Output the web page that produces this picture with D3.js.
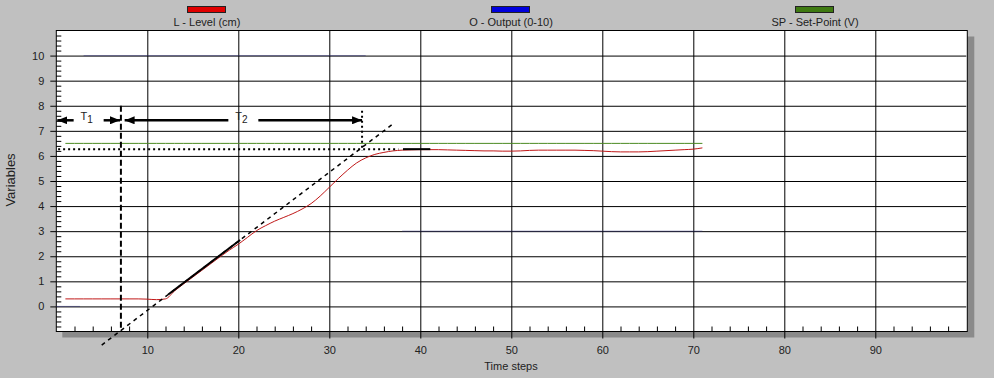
<!DOCTYPE html>
<html>
<head>
<meta charset="utf-8">
<script src="https://cdn.jsdelivr.net/npm/d3@7"></script>
<style>
  body { margin: 0; background: #c0c0c0; }
  svg text { font-family: "Liberation Sans", Arial, sans-serif; fill: #222; }
</style>
</head>
<body>
<svg id="chart" width="994" height="378"></svg>
<script>
// time steps 1..71
var steps = d3.range(1, 72);

// L - Level (cm)
var level = [0.30, 0.30, 0.30, 0.30, 0.30, 0.30, 0.30, 0.30, 0.30, 0.29,
  0.27, 0.30, 0.62, 0.90, 1.17, 1.44, 1.71, 1.98, 2.24, 2.48,
  2.75, 3.02, 3.22, 3.40, 3.55, 3.70, 3.88, 4.10, 4.40, 4.75,
  5.10, 5.43, 5.72, 5.92, 6.06, 6.14, 6.20,
  6.23, 6.24, 6.25, 6.25, 6.25, 6.24, 6.23, 6.22, 6.21, 6.20, 6.20, 6.19, 6.19,
  6.20, 6.22, 6.23, 6.23, 6.23, 6.23, 6.23, 6.22, 6.21, 6.19, 6.17, 6.16, 6.16,
  6.16, 6.17, 6.19, 6.21, 6.23, 6.25, 6.27, 6.32];

// O - Output (0-10), drawn in pieces
var outputSteps = [0, 1, 2.6, 2.6, 3, 10, 20, 30, 34, 34, 38, 40, 50, 60, 71];
var output =      [0, 0, 0, null, 10, 10, 10, 10, 10, null, 3, 3, 3, 3, 3];

// SP - Set-Point (V)
var setpoint = steps.map(function() { return 6.5; });

var xTicks = [10, 20, 30, 40, 50, 60, 70, 80, 90];
var yTicks = [0, 1, 2, 3, 4, 5, 6, 7, 8, 9, 10];

var legendNames = ["L - Level (cm)", "O - Output (0-10)", "SP - Set-Point (V)"];
var legendColors = ["#e00000", "#0000dd", "#3f7a12"];

// annotation values (time, value)
var tangent = [[4.99, -1.54], [37.05, 7.29]];
var solidFrom = 12.3, solidTo = 20.2;
var t1 = 7.1, t2 = 33.6, arrowLevel = 7.42, steadyLevel = 6.27;

var svg = d3.select("#chart");
var pL = 56.3, pR = 966.3, pT = 30.5, pB = 331.5;

var x = d3.scaleLinear().domain([0, 100]).range([pL, pR]);
var y = d3.scaleLinear().domain([-1, 11]).range([pB, pT]);

// shadow + plot area
svg.append("rect").attr("x", pL + 6).attr("y", pT + 6)
  .attr("width", pR - pL + 2).attr("height", pB - pT)
  .attr("fill", "#8a8a8a");
svg.append("rect").attr("x", pL).attr("y", pT)
  .attr("width", pR - pL + 1).attr("height", pB - pT)
  .attr("fill", "#fff");

// grid lines
svg.append("g")
  .attr("transform", "translate(0," + pB + ")")
  .call(d3.axisBottom(x).tickValues(xTicks).tickSizeInner(-(pB - pT)).tickSizeOuter(0).tickFormat(""))
  .call(function(g) { g.select(".domain").remove(); g.selectAll("line").attr("stroke", "#000"); });
svg.append("g")
  .attr("transform", "translate(" + pL + ",0)")
  .call(d3.axisLeft(y).tickValues(yTicks).tickSizeInner(-(pR - pL)).tickSizeOuter(0).tickFormat(""))
  .call(function(g) { g.select(".domain").remove(); g.selectAll("line").attr("stroke", "#000"); });

// minor ticks
svg.append("g")
  .attr("transform", "translate(0," + pB + ")")
  .call(d3.axisBottom(x).tickValues(d3.range(2, 100, 2).filter(function(d) { return d % 10; })).tickSizeInner(-5).tickSizeOuter(0).tickFormat(""))
  .call(function(g) { g.select(".domain").remove(); g.selectAll("line").attr("stroke", "#000"); });
svg.append("g")
  .attr("transform", "translate(" + pL + ",0)")
  .call(d3.axisLeft(y).tickValues(d3.range(-5, 55).map(function(d) { return d / 5; }).filter(function(d) { return Math.round(d * 5) % 5; })).tickSizeInner(-5).tickSizeOuter(0).tickFormat(""))
  .call(function(g) { g.select(".domain").remove(); g.selectAll("line").attr("stroke", "#000"); });

// major ticks + labels
svg.append("g")
  .attr("transform", "translate(0," + pB + ")")
  .call(d3.axisBottom(x).tickValues(xTicks).tickSizeInner(7).tickSizeOuter(0).tickPadding(8))
  .call(function(g) {
    g.select(".domain").remove();
    g.selectAll("line").attr("stroke", "#000");
    g.selectAll("text").attr("font-size", "11px").attr("fill", "#222");
  });
svg.append("g")
  .attr("transform", "translate(" + pL + ",0)")
  .call(d3.axisLeft(y).tickValues(yTicks).tickSizeInner(6).tickSizeOuter(0).tickPadding(6))
  .call(function(g) {
    g.select(".domain").remove();
    g.selectAll("line").attr("stroke", "#000");
    g.selectAll("text").attr("font-size", "11px").attr("fill", "#222");
  });

// frame
svg.append("rect").attr("x", pL).attr("y", pT)
  .attr("width", pR - pL + 1).attr("height", pB - pT)
  .attr("fill", "none").attr("stroke", "#000");

// axis titles
svg.append("text").attr("x", 511).attr("y", 370).attr("text-anchor", "middle")
  .attr("font-size", "11px").text("Time steps");
svg.append("text").attr("transform", "translate(15,180) rotate(-90)")
  .attr("text-anchor", "middle").attr("font-size", "13px").text("Variables");

// legend
var legend = svg.selectAll(".legend").data(legendNames).enter().append("g")
  .attr("transform", function(d, i) { return "translate(" + (207 + i * 304) + ",0)"; });
legend.append("rect").attr("x", -19.5).attr("y", 6.5).attr("width", 38).attr("height", 6)
  .attr("fill", function(d, i) { return legendColors[i]; }).attr("stroke", "#222");
legend.append("text").attr("y", 26).attr("text-anchor", "middle")
  .attr("font-size", "11px").text(function(d) { return d; });

// series
var line = d3.line()
  .defined(function(d) { return d[1] != null; })
  .x(function(d) { return x(d[0]); })
  .y(function(d) { return y(d[1]); });

svg.append("path")
  .attr("d", line(outputSteps.map(function(t, i) { return [t, output[i]]; })))
  .attr("fill", "none").attr("stroke", "#30307a").attr("stroke-opacity", 0.5).attr("stroke-width", 1);
svg.append("path")
  .attr("d", line(steps.map(function(t, i) { return [t, setpoint[i]]; })))
  .attr("fill", "none").attr("stroke", "#4b8a22").attr("stroke-width", 1);
var smooth = d3.line()
  .curve(d3.curveMonotoneX)
  .x(function(d) { return x(d[0]); })
  .y(function(d) { return y(d[1]); });
svg.append("path")
  .attr("d", smooth(steps.map(function(t, i) { return [t, level[i]]; })))
  .attr("fill", "none").attr("stroke", "#c01818").attr("stroke-width", 1);

// annotations
var defs = svg.append("defs");
defs.append("marker").attr("id", "arr").attr("viewBox", "0 0 10 8")
  .attr("refX", 10).attr("refY", 4).attr("markerUnits", "userSpaceOnUse")
  .attr("markerWidth", 10).attr("markerHeight", 8).attr("orient", "auto-start-reverse")
  .append("path").attr("d", "M0,0L10,4L0,8Z").attr("fill", "#000");

var tanAt = d3.scaleLinear().domain([tangent[0][0], tangent[1][0]]).range([tangent[0][1], tangent[1][1]]);

var ann = svg.append("g").attr("stroke", "#000").attr("fill", "none");
ann.append("path").attr("d", line(tangent)).attr("stroke-width", 1.5).attr("stroke-dasharray", "4,4");
ann.append("path").attr("d", line([[solidFrom, tanAt(solidFrom)], [solidTo, tanAt(solidTo)]])).attr("stroke-width", 2);
ann.append("path").attr("d", line([[0.2, steadyLevel], [37.6, steadyLevel]]))
  .attr("stroke-width", 2).attr("stroke-dasharray", "2,3");
ann.append("path").attr("d", line([[38.1, steadyLevel], [41.1, steadyLevel]])).attr("stroke-width", 2);
ann.append("path").attr("d", line([[t1, 8.0], [t1, -1]]))
  .attr("stroke-width", 2).attr("stroke-dasharray", "6,3");
ann.append("path").attr("d", line([[t2, 7.8], [t2, 6.2]]))
  .attr("stroke-width", 2).attr("stroke-dasharray", "2,3");

// T1 / T2 arrows with a gap for the label
function arrow(a, b, label) {
  var xa = x(a) + 1, xb = x(b), mid = (xa + xb) / 2, yy = y(arrowLevel);
  ann.append("line").attr("x1", mid - 15).attr("x2", xa).attr("y1", yy).attr("y2", yy)
    .attr("stroke-width", 2.5).attr("marker-end", "url(#arr)");
  ann.append("line").attr("x1", mid + 15).attr("x2", xb).attr("y1", yy).attr("y2", yy)
    .attr("stroke-width", 2.5).attr("marker-end", "url(#arr)");
  var t = svg.append("text").attr("x", mid - 2).attr("y", yy).attr("text-anchor", "middle")
    .attr("font-size", "11px");
  t.append("tspan").text("T");
  t.append("tspan").attr("dy", 3).attr("font-size", "10px").text(label);
}
arrow(0, t1 - 0.1, "1");
arrow(t1 + 0.3, t2, "2");
</script>
</body>
</html>
